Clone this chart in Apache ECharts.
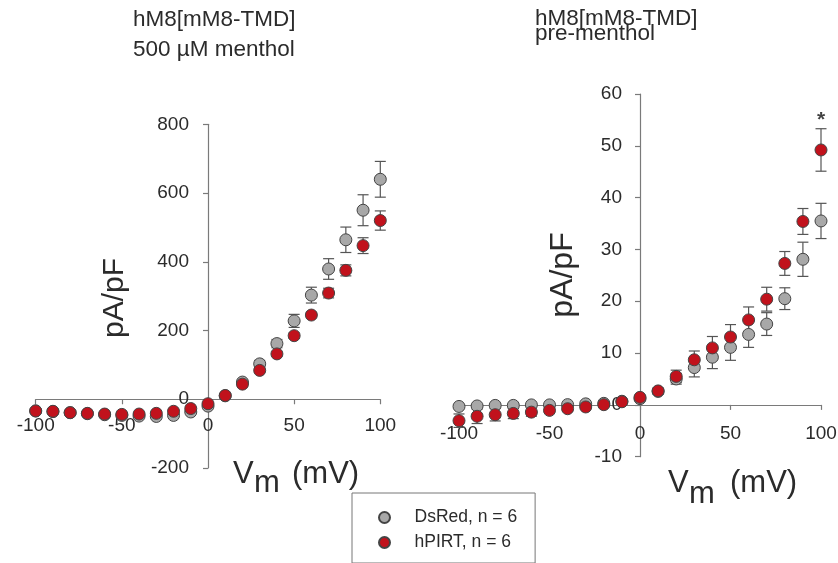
<!DOCTYPE html>
<html>
<head>
<meta charset="utf-8">
<script src="https://cdn.jsdelivr.net/npm/echarts@6/dist/echarts.min.js"></script>
<style>
  html, body { margin: 0; padding: 0; background: #fff; }
  #chart { width: 838px; height: 563px; }
</style>
</head>
<body>
<div id="chart"></div>
<script>
// Membrane potential steps (mV)
const voltages = [-100, -90, -80, -70, -60, -50, -40, -30, -20, -10, 0, 10, 20, 30, 40, 50, 60, 70, 80, 90, 100];

// Current density (pA/pF), 500 µM menthol
const mentholDsRed = [-34, -36, -39, -42, -45, -47, -49, -50, -47, -37, -20, 10, 50, 103, 162, 228, 303, 379, 464, 550, 640];
const mentholDsRedErr = [5, 5, 5, 5, 5, 5, 5, 5, 5, 5, 6, 5, 7, 10, 12, 19, 23, 30, 37, 45, 52];
const mentholPIRT = [-34, -35, -39, -41, -43, -44, -43, -41, -35, -27, -13, 11, 44, 84, 132, 185, 245, 309, 375, 447, 520];
const mentholPIRTErr = [4, 4, 4, 4, 4, 4, 4, 4, 4, 4, 4, 4, 5, 6, 7, 8, 8, 14, 16, 23, 28];

// Current density (pA/pF), pre-menthol
const preDsRed = [-0.3, -0.2, -0.1, -0.1, 0, 0, 0.05, 0.2, 0.3, 0.7, 1.2, 2.6, 5.0, 7.2, 9.2, 11.1, 13.6, 15.6, 20.5, 28.1, 35.5];
const preDsRedErr = [0.3, 0.3, 0.3, 0.3, 0.3, 0.3, 0.3, 0.3, 0.3, 0.3, 0.4, 0.5, 1.0, 1.8, 2.2, 2.5, 2.5, 2.2, 2.1, 3.3, 3.4];
const prePIRT = [-3.05, -2.2, -1.9, -1.65, -1.4, -1.06, -0.74, -0.4, 0.04, 0.6, 1.45, 2.7, 5.5, 8.7, 11.0, 13.1, 16.4, 20.4, 27.3, 35.4, 49.2];
const prePIRTErr = [1.3, 1.4, 1.2, 1.0, 0.8, 0.6, 0.5, 0.4, 0.3, 0.3, 0.4, 0.6, 1.2, 1.7, 2.2, 2.4, 2.5, 2.3, 2.3, 2.5, 4.1];

// Significance mark at +100 mV (pre-menthol panel)
const sigMark = [[100, 55]];

const seriesNames = ['DsRed, n = 6', 'hPIRT, n = 6'];
const FONT = "'Liberation Sans', Arial, sans-serif";
const TEXT = '#2b2b2b';
const AXIS = '#7a7a7a';
const GRAY = '#a8a8a8';
const RED = '#c1121c';

const W = 838, H = 563;
// Plot areas (px) and value ranges of the two panels
const panels = [
  { left: 35.7, right: 457.7, top: 124.3, bottom: 95, xMin: -100, xMax: 100, yMin: -200, yMax: 800, yStep: 200 },
  { left: 459, right: 17, top: 94, bottom: 106.3, xMin: -100, xMax: 100, yMin: -10, yMax: 60, yStep: 10 }
];

// Axes cross at the origin: shift them inward from the plot edges to the zero line
function zeroOffsets(p) {
  const w = W - p.left - p.right, h = H - p.top - p.bottom;
  return {
    x: -h * (0 - p.yMin) / (p.yMax - p.yMin),
    y: -w * (0 - p.xMin) / (p.xMax - p.xMin)
  };
}

const pts = (vals) => voltages.map((v, i) => [v, vals[i]]);
const errPts = (vals, errs) => voltages.map((v, i) => [v, vals[i], errs[i]]);

function renderErr(params, api) {
  const x = api.value(0), y = api.value(1), e = api.value(2);
  const top = api.coord([x, y + e]);
  const bot = api.coord([x, y - e]);
  const hw = 5.5;
  const style = { stroke: '#555', lineWidth: 1.2, fill: null };
  return {
    type: 'group',
    children: [
      { type: 'line', shape: { x1: top[0], y1: top[1], x2: bot[0], y2: bot[1] }, style },
      { type: 'line', shape: { x1: top[0] - hw, y1: top[1], x2: top[0] + hw, y2: top[1] }, style },
      { type: 'line', shape: { x1: bot[0] - hw, y1: bot[1], x2: bot[0] + hw, y2: bot[1] }, style }
    ]
  };
}

function xAxisCfg(gridIndex, margin) {
  const p = panels[gridIndex];
  return {
    type: 'value', gridIndex, min: p.xMin, max: p.xMax, interval: 50,
    position: 'bottom', offset: zeroOffsets(p).x,
    axisLine: { onZero: false, lineStyle: { color: AXIS, width: 1.2 } },
    axisTick: { show: true, length: 5, lineStyle: { color: AXIS, width: 1.2 } },
    axisLabel: { color: TEXT, fontSize: 19, fontFamily: FONT, margin, showMinLabel: true, showMaxLabel: true },
    splitLine: { show: false }
  };
}
function yAxisCfg(gridIndex, margin) {
  const p = panels[gridIndex];
  return {
    type: 'value', gridIndex, min: p.yMin, max: p.yMax, interval: p.yStep,
    position: 'left', offset: zeroOffsets(p).y,
    axisLine: { show: true, onZero: false, lineStyle: { color: AXIS, width: 1.2 } },
    axisTick: { show: true, length: 5, lineStyle: { color: AXIS, width: 1.2 } },
    axisLabel: { color: TEXT, fontSize: 19, fontFamily: FONT, margin, showMinLabel: true, showMaxLabel: true },
    splitLine: { show: false }
  };
}

function errSeries(name, data, axisIdx) {
  return {
    name, type: 'custom', xAxisIndex: axisIdx, yAxisIndex: axisIdx,
    renderItem: renderErr, data, encode: { x: 0, y: 1 }, silent: true
  };
}
function dotSeries(name, data, axisIdx, color) {
  return {
    name, type: 'scatter', xAxisIndex: axisIdx, yAxisIndex: axisIdx,
    data, symbol: 'circle', symbolSize: 12,
    itemStyle: { color, borderColor: '#444', borderWidth: 1, opacity: 1 }
  };
}

const chart = echarts.init(document.getElementById('chart'), null, { renderer: 'canvas' });

chart.setOption({
  animation: false,
  backgroundColor: '#fff',
  textStyle: { fontFamily: FONT },
  grid: panels.map(p => ({
    left: p.left, right: p.right, top: p.top, bottom: p.bottom,
    containLabel: false, outerBoundsMode: 'none'
  })),
  xAxis: [xAxisCfg(0, 17), xAxisCfg(1, 19)],
  yAxis: [yAxisCfg(0, 19), yAxisCfg(1, 18)],
  legend: {
    data: seriesNames,
    orient: 'vertical',
    left: 352, top: 493,
    padding: [14, 18, 10, 26],
    itemWidth: 50, itemHeight: 11, itemGap: 4,
    borderColor: '#777', borderWidth: 1,
    textStyle: { color: TEXT, fontSize: 17.5, fontFamily: FONT, lineHeight: 21 },
    selectedMode: false
  },
  series: [
    errSeries('DsRed SEM (menthol)', errPts(mentholDsRed, mentholDsRedErr), 0),
    errSeries('hPIRT SEM (menthol)', errPts(mentholPIRT, mentholPIRTErr), 0),
    dotSeries(seriesNames[0], pts(mentholDsRed), 0, GRAY),
    dotSeries(seriesNames[1], pts(mentholPIRT), 0, RED),

    errSeries('DsRed SEM (pre)', errPts(preDsRed, preDsRedErr), 1),
    errSeries('hPIRT SEM (pre)', errPts(prePIRT, prePIRTErr), 1),
    dotSeries(seriesNames[0], pts(preDsRed), 1, GRAY),
    dotSeries(seriesNames[1], pts(prePIRT), 1, RED),

    {
      name: 'significance', type: 'scatter', xAxisIndex: 1, yAxisIndex: 1,
      data: sigMark, symbolSize: 0, silent: true,
      label: { show: true, position: 'inside', formatter: '*', color: '#111', fontSize: 21, fontWeight: 'bold', fontFamily: FONT }
    }
  ],
  graphic: [
    // panel titles
    { type: 'text', left: 133, top: 8, style: { text: 'hM8[mM8-TMD]', font: '22.5px ' + FONT, fill: TEXT } },
    { type: 'text', left: 133, top: 38, style: { text: '500 µM menthol', font: '22.5px ' + FONT, fill: TEXT } },
    { type: 'text', left: 535, top: 7, style: { text: 'hM8[mM8-TMD]', font: '22.5px ' + FONT, fill: TEXT } },
    { type: 'text', left: 535, top: 22, style: { text: 'pre-menthol', font: '22.5px ' + FONT, fill: TEXT } },

    // y axis titles
    { type: 'text', x: 115, y: 298, rotation: Math.PI / 2,
      style: { text: 'pA/pF', font: '30px ' + FONT, fill: TEXT, align: 'center', verticalAlign: 'middle' } },
    { type: 'text', x: 563, y: 275, rotation: Math.PI / 2,
      style: { text: 'pA/pF', font: '32px ' + FONT, fill: TEXT, align: 'center', verticalAlign: 'middle' } },

    // x axis titles: V with subscript m, then (mV)
    { type: 'text', x: 233, y: 474, style: { text: 'V', font: '31px ' + FONT, fill: TEXT, verticalAlign: 'middle' } },
    { type: 'text', x: 254, y: 483, style: { text: 'm', font: '31px ' + FONT, fill: TEXT, verticalAlign: 'middle' } },
    { type: 'text', x: 292, y: 474, style: { text: '(mV)', font: '31px ' + FONT, fill: TEXT, verticalAlign: 'middle' } },

    { type: 'text', x: 668, y: 483, style: { text: 'V', font: '31px ' + FONT, fill: TEXT, verticalAlign: 'middle' } },
    { type: 'text', x: 689, y: 494, style: { text: 'm', font: '31px ' + FONT, fill: TEXT, verticalAlign: 'middle' } },
    { type: 'text', x: 730, y: 483, style: { text: '(mV)', font: '31px ' + FONT, fill: TEXT, verticalAlign: 'middle' } }
  ]
});
</script>
</body>
</html>
